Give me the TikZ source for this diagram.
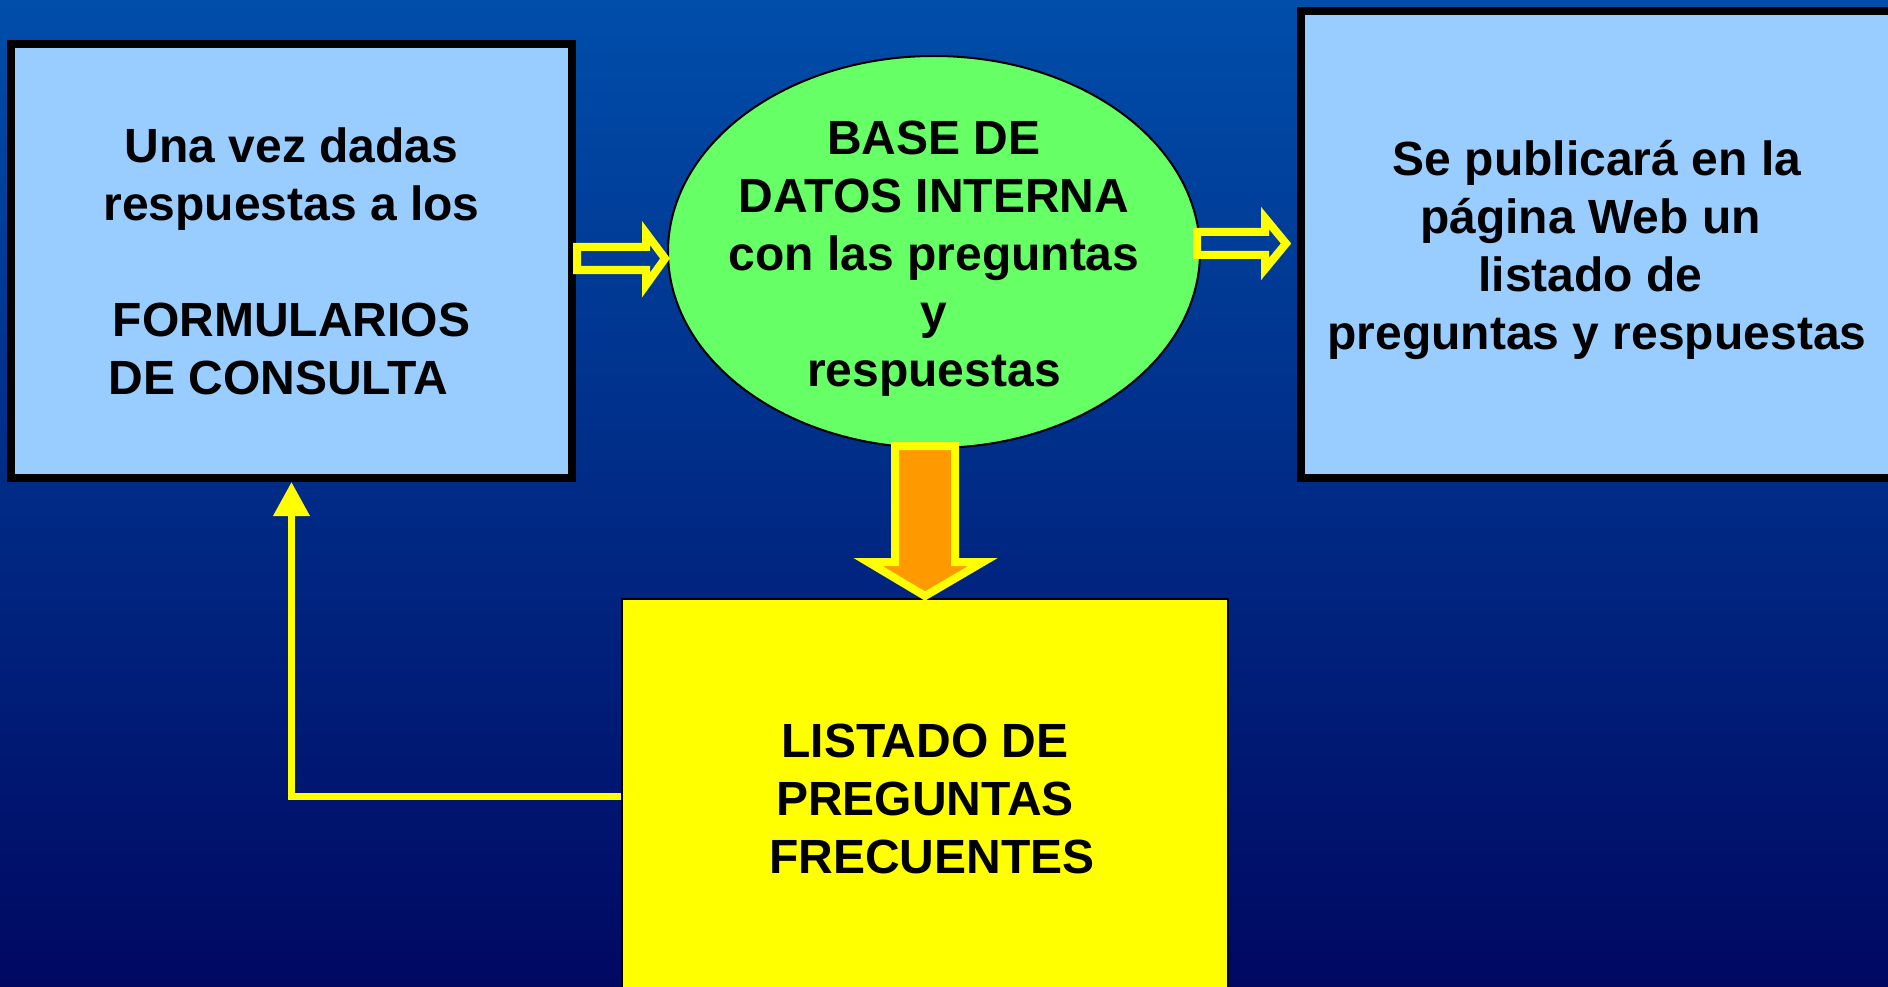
\documentclass[tikz,border=0pt]{standalone}
\usepackage{fontspec}
\setmainfont{Liberation Sans}
\usetikzlibrary{shapes.geometric,arrows.meta,positioning}

\definecolor{bgtop}{RGB}{0,78,170}
\definecolor{bgmid}{RGB}{0,44,128}
\definecolor{bgbot}{RGB}{0,8,98}
\definecolor{paleblue}{RGB}{153,204,255}
\definecolor{dbgreen}{RGB}{102,255,102}
\definecolor{flowyellow}{RGB}{255,255,0}
\definecolor{floworange}{RGB}{255,153,0}

\begin{document}
\begin{tikzpicture}[x=1pt,y=-1pt,
    txt/.style={align=center,font=\fontsize{48}{58}\selectfont\bfseries,text=black},
    panel/.style={draw=black,line width=8pt,fill=paleblue,inner sep=0pt},
    hollow/.style={draw=flowyellow,line width=8pt,miter limit=10},
    feedback/.style={draw=flowyellow,line width=7pt,-{Triangle[length=34pt,width=35pt]}}]
    \useasboundingbox (0,0) rectangle (1888,987);
    \clip (0,0) rectangle (1888,987);
    \shade[top color=bgtop,middle color=bgmid,bottom color=bgbot] (0,0) rectangle (1888,987);

    \node[panel,txt,minimum width=561pt,minimum height=434pt] (consulta) at (291.5,261) {Una vez dadas\\respuestas a los\\[58pt]FORMULARIOS\\DE CONSULTA\hspace*{0.55em}};
    \node[panel,minimum width=592pt,minimum height=467pt] (web) at (1597,244.5) {};
    \node[txt] (webtxt) at (1597,250) {Se publicará en la\\página Web un\rule{13pt}{0pt}\\listado de\rule{13pt}{0pt}\\preguntas y respuestas};

    \node[ellipse,draw=black,line width=2pt,fill=dbgreen,minimum width=532pt,minimum height=392pt,inner sep=0pt] (base) at (934,252) {};
    \node[txt] (basetxt) at (934,259) {BASE DE\\DATOS INTERNA\\con las preguntas\\y\\respuestas};

    \node[draw=black,line width=1.5pt,fill=flowyellow,minimum width=606pt,minimum height=394pt] (listado) at (925,796) {};
    \node[txt] (listadotxt) at (925,799) {LISTADO DE\\PREGUNTAS\\\hspace*{0.28em}FRECUENTES};

    % hollow arrows
    \draw[hollow] ([shift={(1,-14)}]consulta.east) -- ++(69,0) -- ++(0,-14) -- ++(19,25.5) -- ++(-19,26.5) -- ++(0,-15) -- ++(-69,0) -- cycle;
    \draw[hollow] ([shift={(-4,-20)}]base.east) -- ++(68,0) -- ++(0,-14) -- ++(21,25.5) -- ++(-21,25.5) -- ++(0,-14) -- ++(-68,0) -- cycle;
    \draw[hollow,fill=floworange] ([shift={(-39,-3)}]base.south) -- ++(60,0) -- ++(0,116) -- ++(28,0) -- ++(-58,34) -- ++(-57,-34) -- ++(27,0) -- cycle;

    \draw[feedback] (listado.west) -| (consulta.south);
\end{tikzpicture}
\end{document}
